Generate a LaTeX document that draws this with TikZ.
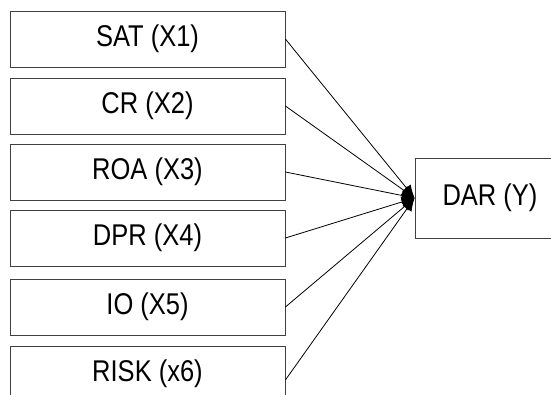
\documentclass[tikz,border=0pt]{standalone}
\usepackage{fontspec}
\setmainfont[FakeStretch=0.85]{Liberation Sans}
\usetikzlibrary{arrows.meta}
\begin{document}
\begin{tikzpicture}[x=1pt, y=-1pt,
    varbox/.style={draw=black!75, line width=0.8pt, minimum width=275pt, minimum height=56pt,
      inner sep=0pt, font=\fontsize{30}{34}\selectfont},
    outbox/.style={varbox, minimum width=150pt, minimum height=80pt},
    link/.style={line width=0.8pt, -{Latex[length=13pt, width=11pt]}}]
    \useasboundingbox (0,0) rectangle (551,394);
    \clip (0,0) rectangle (551,394);

    % Predictor boxes (left column)
    \node[varbox] (x1) at (147.5, 39) {SAT (X1)};
    \node[varbox] (x2) at (147.5, 106) {CR (X2)};
    \node[varbox] (x3) at (147.5, 172) {ROA (X3)};
    \node[varbox] (x4) at (147.5, 238) {DPR (X4)};
    \node[varbox] (x5) at (147.5, 307) {IO (X5)};
    \node[varbox] (x6) at (147.5, 374) {RISK (x6)};

    % Outcome box
    \node[outbox] (y) at (490, 198) {DAR (Y)};

    % Links
    \foreach \i in {1,...,5} \draw[link] (x\i.east) -- (y.west);
    \draw[link] ([yshift=-6pt]x6.east) -- (y.west);
\end{tikzpicture}
\end{document}
